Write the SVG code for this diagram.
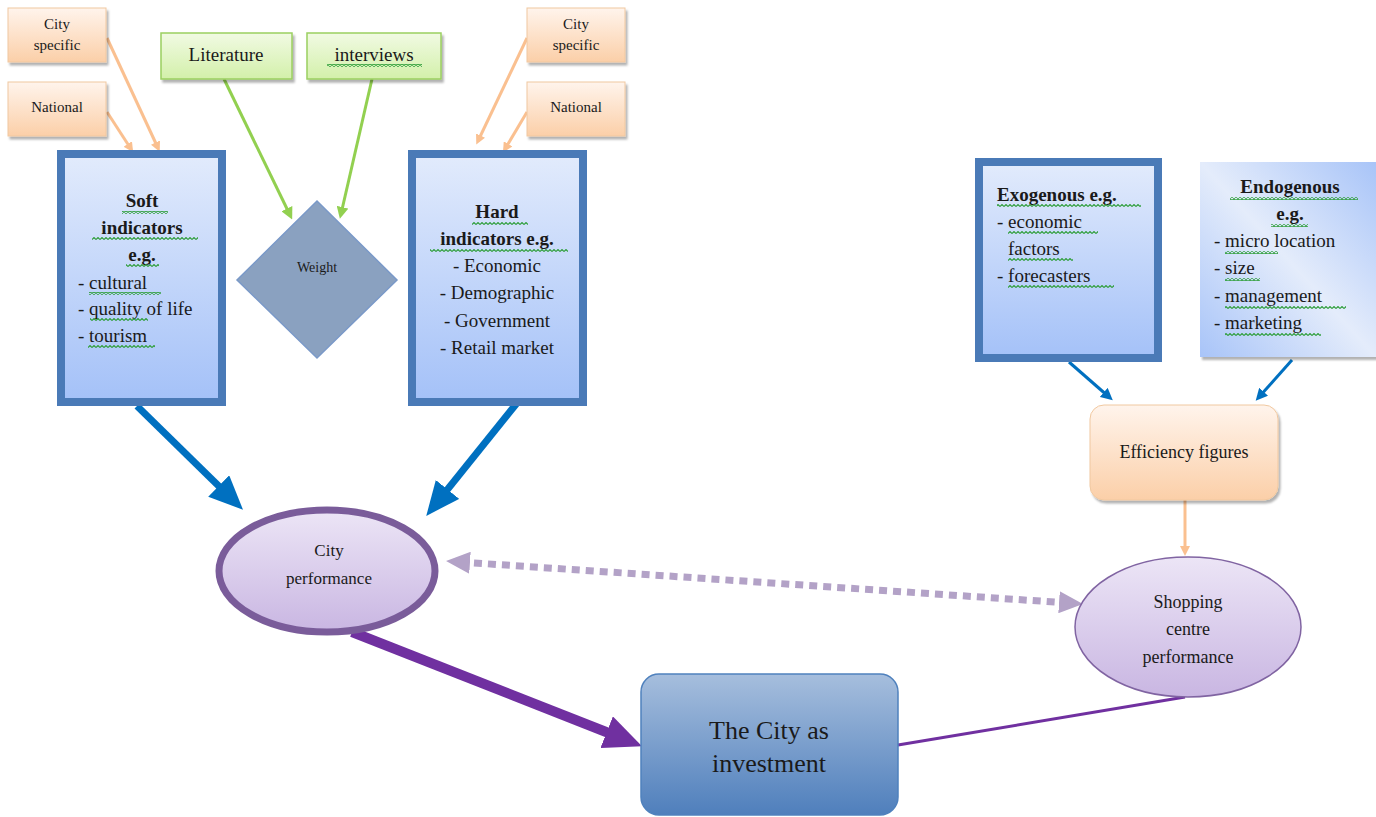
<svg xmlns="http://www.w3.org/2000/svg" width="1376" height="817" viewBox="0 0 1376 817">
<defs>
<linearGradient id="peach" x1="0" y1="0" x2="0" y2="1"><stop offset="0" stop-color="#fff4ec"/><stop offset="1" stop-color="#fbcfa8"/></linearGradient>
<linearGradient id="green" x1="0" y1="0" x2="0" y2="1"><stop offset="0" stop-color="#f1fae3"/><stop offset="1" stop-color="#d3f0aa"/></linearGradient>
<linearGradient id="blue" x1="0" y1="0" x2="0" y2="1"><stop offset="0" stop-color="#e2ebfc"/><stop offset="1" stop-color="#a4c1f8"/></linearGradient>
<linearGradient id="endo" x1="0" y1="1" x2="1" y2="0"><stop offset="0" stop-color="#a8c4f8"/><stop offset="0.5" stop-color="#e4ecfb"/><stop offset="1" stop-color="#a8c4f8"/></linearGradient>
<linearGradient id="lilac" x1="0" y1="0" x2="0" y2="1"><stop offset="0" stop-color="#ece5f6"/><stop offset="1" stop-color="#c9b6e2"/></linearGradient>
<linearGradient id="inv" x1="0" y1="0" x2="0" y2="1"><stop offset="0" stop-color="#a6bedd"/><stop offset="1" stop-color="#4f7fbc"/></linearGradient>
<pattern id="sq" width="4" height="3" patternUnits="userSpaceOnUse"><polyline points="0,2.5 2,0.5 4,2.5" fill="none" stroke="#2e9e3a" stroke-width="1.1"/></pattern>
<filter id="sh" x="-10%" y="-10%" width="130%" height="130%"><feDropShadow dx="2" dy="3" stdDeviation="1.2" flood-color="#000" flood-opacity="0.3"/></filter>
<marker id="ahP" markerWidth="10" markerHeight="10" refX="6" refY="5" orient="auto" markerUnits="userSpaceOnUse"><path d="M0,0 L10,5 L0,10 z" fill="#fac090"/></marker>
<marker id="ahG" markerWidth="12" markerHeight="12" refX="7" refY="6" orient="auto" markerUnits="userSpaceOnUse"><path d="M0,0 L12,6 L0,12 z" fill="#92d050"/></marker>
<marker id="ahB" markerWidth="34" markerHeight="30" refX="20" refY="15" orient="auto" markerUnits="userSpaceOnUse"><path d="M0,0 L34,15 L0,30 z" fill="#0070c0"/></marker>
<marker id="ahB2" markerWidth="12" markerHeight="12" refX="7" refY="6" orient="auto" markerUnits="userSpaceOnUse"><path d="M0,0 L12,6 L0,12 z" fill="#0070c0"/></marker>
<marker id="ahV" markerWidth="38" markerHeight="34" refX="24" refY="17" orient="auto" markerUnits="userSpaceOnUse"><path d="M0,0 L38,17 L0,34 z" fill="#7030a0"/></marker>
<marker id="ahL" markerWidth="24" markerHeight="22" refX="10" refY="11" orient="auto-start-reverse" markerUnits="userSpaceOnUse"><path d="M0,0 L24,11 L0,22 z" fill="#b3a2c7"/></marker>
</defs>
<style>
text{font-family:"Liberation Serif","DejaVu Serif",serif;fill:#1a1a1a}
.pb{fill:url(#peach);stroke:#f0c8a0;stroke-width:1;filter:url(#sh)}
.gb{fill:url(#green);stroke:#9bcf60;stroke-width:1.5;filter:url(#sh)}
.bb{fill:url(#blue);stroke:#4a7ab7;stroke-width:8}
.sm{font-size:15px;text-anchor:middle}
.md{font-size:19px}
.mc{font-size:19px;text-anchor:middle}
.b{font-weight:bold}
.w{fill:url(#sq)}
</style>

<g id="connectors" fill="none">
<line x1="107" y1="38" x2="158" y2="148" stroke="#fac090" stroke-width="3" marker-end="url(#ahP)"/>
<line x1="107" y1="112" x2="131" y2="149" stroke="#fac090" stroke-width="3" marker-end="url(#ahP)"/>
<line x1="527" y1="38" x2="478" y2="141" stroke="#fac090" stroke-width="3" marker-end="url(#ahP)"/>
<line x1="527" y1="112" x2="505" y2="149" stroke="#fac090" stroke-width="3" marker-end="url(#ahP)"/>
<line x1="224" y1="79" x2="290" y2="215" stroke="#92d050" stroke-width="3" marker-end="url(#ahG)"/>
<line x1="372" y1="79" x2="341" y2="214" stroke="#92d050" stroke-width="3" marker-end="url(#ahG)"/>
<line x1="137" y1="406" x2="233" y2="500" stroke="#0070c0" stroke-width="7" marker-end="url(#ahB)"/>
<line x1="517" y1="403" x2="435" y2="505" stroke="#0070c0" stroke-width="7" marker-end="url(#ahB)"/>
<line x1="1069" y1="362" x2="1109" y2="397" stroke="#0070c0" stroke-width="3" marker-end="url(#ahB2)"/>
<line x1="1292" y1="360" x2="1259" y2="397" stroke="#0070c0" stroke-width="3" marker-end="url(#ahB2)"/>
<line x1="1185" y1="500" x2="1185" y2="552" stroke="#fac090" stroke-width="3" marker-end="url(#ahP)"/>
<line x1="460" y1="562" x2="1069" y2="603" stroke="#b3a2c7" stroke-width="7" stroke-dasharray="8,6" marker-start="url(#ahL)" marker-end="url(#ahL)"/>
<line x1="352" y1="632" x2="629" y2="741" stroke="#7030a0" stroke-width="10" marker-end="url(#ahV)"/>
<line x1="1185" y1="697" x2="898" y2="745" stroke="#7030a0" stroke-width="3"/>
</g>

<g id="city-specific-left"><rect class="pb" x="8" y="8" width="98" height="54"/><text class="sm" x="57" y="29">City</text><text class="sm" x="57" y="50">specific</text></g>
<g id="national-left"><rect class="pb" x="8" y="82" width="98" height="54"/><text class="sm" x="57" y="112">National</text></g>
<g id="city-specific-right"><rect class="pb" x="527" y="8" width="98" height="54"/><text class="sm" x="576" y="29">City</text><text class="sm" x="576" y="50">specific</text></g>
<g id="national-right"><rect class="pb" x="527" y="82" width="98" height="54"/><text class="sm" x="576" y="112">National</text></g>

<g id="literature"><rect class="gb" x="161" y="33" width="131" height="46"/><text x="226" y="61" font-size="19" text-anchor="middle">Literature</text></g>
<g id="interviews"><rect class="gb" x="307" y="33" width="134" height="46"/><text x="374" y="61" font-size="19" text-anchor="middle">interviews</text><rect class="w" x="327" y="64" width="95" height="3"/></g>

<g id="soft-indicators"><rect class="bb" x="61" y="154" width="161" height="248"/>
<text class="mc b" x="142" y="207">Soft</text>
<text class="mc b" x="142" y="234">indicators</text>
<text class="mc b" x="142" y="261">e.g.</text>
<text class="md" x="78" y="289">- cultural</text>
<text class="md" x="78" y="315">- quality of life</text>
<text class="md" x="78" y="342">- tourism</text>
<rect class="w" x="122" y="211" width="46" height="3"/><rect class="w" x="92" y="237" width="106" height="3"/><rect class="w" x="126" y="264" width="33" height="3"/><rect class="w" x="89" y="292" width="72" height="3"/><rect class="w" x="90" y="318" width="58" height="3"/><rect class="w" x="88" y="345" width="67" height="3"/>
</g>

<g id="weight"><polygon points="317,201 397,280 317,358 237,280" fill="#8aa1c0" stroke="#7a99c8" stroke-width="1.5"/><text x="317" y="272" font-size="14" text-anchor="middle">Weight</text></g>

<g id="hard-indicators"><rect class="bb" x="412" y="154" width="171" height="248"/>
<text class="mc b" x="497" y="218">Hard</text>
<text class="mc b" x="497" y="245">indicators e.g.</text>
<text class="mc" x="497" y="272">- Economic</text>
<text class="mc" x="497" y="299">- Demographic</text>
<text class="mc" x="497" y="327">- Government</text>
<text class="mc" x="497" y="354">- Retail market</text>
<rect class="w" x="472" y="222" width="56" height="3"/><rect class="w" x="430" y="249" width="138" height="3"/>
</g>

<g id="exogenous"><rect class="bb" x="979" y="162" width="179" height="196"/>
<text class="md b" x="997" y="201">Exogenous e.g.</text>
<text class="md" x="997" y="228">- economic</text>
<text class="md" x="1008" y="255">factors</text>
<text class="md" x="997" y="282">- forecasters</text>
<rect class="w" x="997" y="204" width="144" height="3"/><rect class="w" x="1008" y="231" width="90" height="3"/><rect class="w" x="1008" y="258" width="65" height="3"/><rect class="w" x="1008" y="285" width="106" height="3"/>
</g>

<g id="endogenous"><rect x="1200" y="162" width="176" height="195" fill="url(#endo)" filter="url(#sh)"/>
<text class="mc b" x="1290" y="193">Endogenous</text>
<text class="mc b" x="1290" y="220">e.g.</text>
<text class="md" x="1214" y="247">- micro location</text>
<text class="md" x="1214" y="274">- size</text>
<text class="md" x="1214" y="302">- management</text>
<text class="md" x="1214" y="329">- marketing</text>
<rect class="w" x="1230" y="197" width="128" height="3"/><rect class="w" x="1271" y="224" width="37" height="3"/><rect class="w" x="1225" y="251" width="53" height="3"/><rect class="w" x="1225" y="278" width="35" height="3"/><rect class="w" x="1225" y="306" width="121" height="3"/><rect class="w" x="1225" y="333" width="96" height="3"/>
</g>

<g id="efficiency"><rect x="1090" y="405" width="188" height="95" rx="14" fill="url(#peach)" stroke="#f0c8a0" filter="url(#sh)"/><text x="1184" y="458" font-size="18" text-anchor="middle">Efficiency figures</text></g>

<g id="city-performance"><ellipse cx="327" cy="571" rx="108" ry="61" fill="url(#lilac)" stroke="#7a5c9a" stroke-width="7"/><text x="329" y="556" font-size="17" text-anchor="middle">City</text><text x="329" y="584" font-size="17" text-anchor="middle">performance</text></g>

<g id="shopping-centre"><ellipse cx="1188" cy="627" rx="113" ry="70" fill="url(#lilac)" stroke="#8064a2" stroke-width="1.5"/><text x="1188" y="608" font-size="18" text-anchor="middle">Shopping</text><text x="1188" y="635" font-size="18" text-anchor="middle">centre</text><text x="1188" y="663" font-size="18" text-anchor="middle">performance</text></g>

<g id="city-investment"><rect x="641" y="674" width="257" height="141" rx="18" fill="url(#inv)" stroke="#4f81bd" stroke-width="1.5"/><text x="769" y="739" font-size="26" text-anchor="middle">The City as</text><text x="769" y="772" font-size="26" text-anchor="middle">investment</text></g>
</svg>
